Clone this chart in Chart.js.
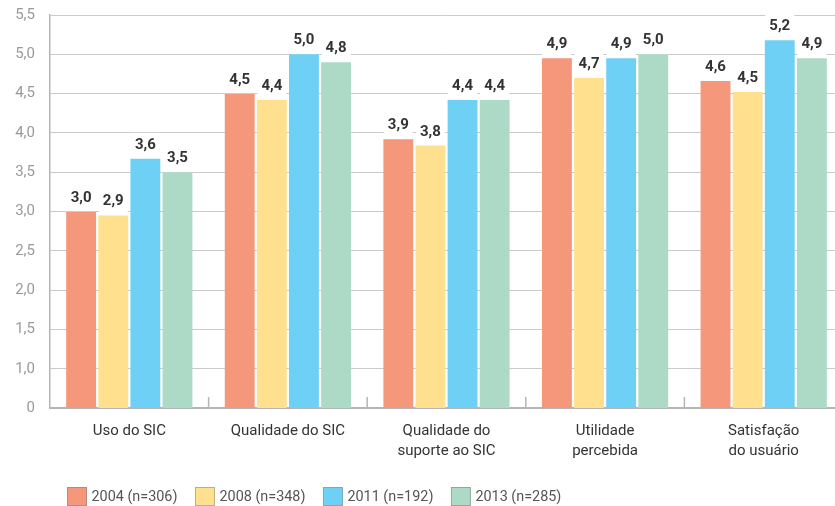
<!DOCTYPE html>
<html><head><meta charset="utf-8">
<script src="https://cdn.jsdelivr.net/npm/chart.js@4"></script>
<style>html,body{margin:0;padding:0;overflow:hidden;background:#fff}#wrap{width:846px;height:506px;position:relative}</style>
</head><body><div id="wrap"><canvas id="c"></canvas></div>
<script>
const categories = ["Uso do SIC", "Qualidade do SIC", ["Qualidade do", "suporte ao SIC"], ["Utilidade", "percebida"], ["Satisfação", "do usuário"]];
const seriesNames = ["2004 (n=306)", "2008 (n=348)", "2011 (n=192)", "2013 (n=285)"];
const values2004 = [3.0, 4.5, 3.92, 4.95, 4.66];
const values2008 = [2.95, 4.42, 3.84, 4.7, 4.52];
const values2011 = [3.67, 5.0, 4.42, 4.95, 5.18];
const values2013 = [3.5, 4.9, 4.42, 5.0, 4.95];
const labels2004 = ["3,0", "4,5", "3,9", "4,9", "4,6"];
const labels2008 = ["2,9", "4,4", "3,8", "4,7", "4,5"];
const labels2011 = ["3,6", "5,0", "4,4", "4,9", "5,2"];
const labels2013 = ["3,5", "4,8", "4,4", "5,0", "4,9"];
const yTickValues = [0.5, 1.0, 1.5, 2.0, 2.5, 3.0, 3.5, 4.0, 4.5, 5.0, 5.5];
const yTickLabels = ["0", "1,0", "1,5", "2,0", "2,5", "3,0", "3,5", "4,0", "4,5", "5,0", "5,5"];

const colors = ["#F5977A", "#FEE08F", "#6FD0F6", "#ADDAC7"];
const borderColors = ["#b98a7a", "#bfae84", "#7fa8b8", "#8fa99c"];
const FONT = "Roboto, 'Liberation Sans', sans-serif";

const valueSets = [values2004, values2008, values2011, values2013];
const labelSets = [labels2004, labels2008, labels2011, labels2013];

const labelPlugin = {
  id: 'valueLabels',
  beforeDatasetsDraw(chart) {
    const ctx = chart.ctx;
    ctx.save();
    ctx.font = "bold 15px " + FONT;
    chart.data.datasets.forEach((ds, di) => {
      const meta = chart.getDatasetMeta(di);
      meta.data.forEach((bar, i) => {
        const t = labelSets[di][i];
        const w = ctx.measureText(t).width;
        ctx.fillStyle = '#fff';
        ctx.fillRect(bar.x - w / 2 - 4, bar.y - 26, w + 8, 26);
      });
    });
    ctx.restore();
  },
  afterDatasetsDraw(chart) {
    const ctx = chart.ctx;
    ctx.save();
    ctx.font = "bold 15px " + FONT;
    ctx.fillStyle = '#333';
    ctx.textAlign = 'center';
    ctx.textBaseline = 'alphabetic';
    chart.data.datasets.forEach((ds, di) => {
      const meta = chart.getDatasetMeta(di);
      meta.data.forEach((bar, i) => {
        ctx.fillText(labelSets[di][i], bar.x, bar.y - 10);
      });
    });
    const xs = chart.scales.x;
    const area = chart.chartArea;
    ctx.strokeStyle = '#b5b5b5';
    ctx.lineWidth = 1.5;
    for (let i = 0; i < categories.length - 1; i++) {
      const x = (xs.getPixelForValue(i) + xs.getPixelForValue(i + 1)) / 2;
      ctx.beginPath();
      ctx.moveTo(x, area.bottom);
      ctx.lineTo(x, area.bottom - 11);
      ctx.stroke();
    }
    ctx.restore();
  },
  afterDraw(chart) {
    const ctx = chart.ctx;
    ctx.save();
    ctx.font = "14.4px " + FONT;
    ctx.textBaseline = 'middle';
    ctx.textAlign = 'left';
    let x = 67.5;
    const y = 487.5;
    chart.data.datasets.forEach((ds, i) => {
      ctx.fillStyle = colors[i];
      ctx.fillRect(x, y, 19, 18);
      ctx.strokeStyle = borderColors[i];
      ctx.lineWidth = 1;
      ctx.strokeRect(x, y, 19, 18);
      ctx.fillStyle = '#555';
      ctx.fillText(ds.label, x + 24, y + 10);
      x += 24 + ctx.measureText(ds.label).width + 18;
    });
    ctx.restore();
  }
};

new Chart(document.getElementById('c'), {
  type: 'bar',
  data: {
    labels: categories,
    datasets: seriesNames.map((n, i) => ({
      label: n,
      data: valueSets[i],
      backgroundColor: colors[i],
      borderWidth: 0,
      categoryPercentage: 0.81,
      barPercentage: 0.93
    }))
  },
  options: {
    responsive: true,
    maintainAspectRatio: false,
    animation: false,
    layout: { padding: { top: 15, right: 3, left: 0, bottom: 32 } },
    plugins: {
      tooltip: { enabled: false },
      legend: { display: false }
    },
    scales: {
      x: {
        grid: { display: false, drawTicks: false },
        border: { display: true, color: '#b5b5b5', width: 2 },
        ticks: { color: '#333', font: { family: FONT, size: 15, lineHeight: 1.33 }, padding: 13, maxRotation: 0 }
      },
      y: {
        min: 0.5,
        max: 5.5,
        afterFit(s) { s.width = 50; s.paddingTop = 9; s.paddingBottom = 9; },
        afterBuildTicks(s) { s.ticks = yTickValues.map(v => ({ value: v })); },
        grid: { color: '#cacaca', lineWidth: 1, drawTicks: false },
        border: { display: true, color: '#b5b5b5', width: 1.5 },
        ticks: {
          color: '#9a9a9a',
          font: { family: FONT, size: 15 },
          padding: 15,
          callback(v) { const k = yTickValues.indexOf(v); return k >= 0 ? yTickLabels[k] : ''; }
        }
      }
    }
  },
  plugins: [labelPlugin]
});
</script>
</body></html>
